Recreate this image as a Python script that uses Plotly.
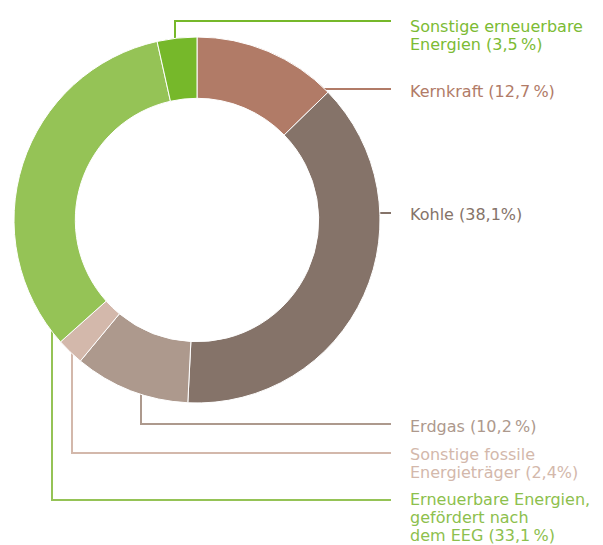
import math
import plotly.graph_objects as go

# ---- data ----
labels = ["Kernkraft", "Kohle", "Erdgas", "Sonstige fossile Energieträger",
          "Erneuerbare Energien, gefördert nach dem EEG", "Sonstige erneuerbare Energien"]
values = [12.7, 38.1, 10.2, 2.4, 33.1, 3.5]
label_lines = [["Kernkraft (12,7\u2009%)"], ["Kohle (38,1%)"], ["Erdgas (10,2\u2009%)"],
               ["Sonstige fossile", "Energieträger (2,4%)"],
               ["Erneuerbare Energien,", "gefördert nach", "dem EEG (33,1\u2009%)"],
               ["Sonstige erneuerbare", "Energien (3,5\u2009%)"]]
colors = ["#b17b67", "#857369", "#ad998d", "#d3b8ab", "#95c356", "#76b82a"]
text_colors = ["#b17b67", "#857369", "#ad998d", "#d3b8ab", "#8dc04d", "#7cbb34"]

# ---- layout constants (pixels) ----
W, H = 603, 545
CX, CY, R = 197, 220, 183
R_MID = 155
LABEL_X = 408
LINE_END_X = 391
LINE_STEP = 18
FONT_SIZE = 16
leaders = [
    ("h", 89, 90),        # Kernkraft: (kind, line y, first text line centre y)
    ("h", 213, 213),      # Kohle
    ("v", 141, 424, 425),  # Erdgas
    ("v", 72, 453, 453),   # Sonstige fossile
    ("v", 52, 500, 498),   # EEG
    ("v", 175, 21, 25),    # Sonstige erneuerbare
]

def px(x):
    return x / W

def py(y):
    return 1 - y / H

fig = go.Figure(go.Pie(
    labels=labels, values=values, sort=False, direction="clockwise", rotation=0,
    hole=0.665, marker=dict(colors=colors, line=dict(color="white", width=1)),
    textinfo="none", hoverinfo="label+percent", showlegend=False,
    domain=dict(x=[px(CX - R), px(CX + R)], y=[py(CY + R), py(CY - R)]),
))

shapes = []
annotations = []
for i, ld in enumerate(leaders):
    c = colors[i]
    if ld[0] == "h":
        y, ty = ld[1], ld[2]
        dy = y - CY
        x0 = CX + math.sqrt(max(R_MID**2 - dy**2, 0))
        shapes.append(dict(type="line", xref="paper", yref="paper", layer="below",
                           x0=px(x0), y0=py(y), x1=px(LINE_END_X), y1=py(y),
                           line=dict(color=c, width=2)))
    else:
        xa, y, ty = ld[1], ld[2], ld[3]
        dx = xa - CX
        dyr = math.sqrt(max(R_MID**2 - dx**2, 0))
        y_start = CY - dyr if y < CY else CY + dyr
        shapes.append(dict(type="path", xref="paper", yref="paper", layer="below",
                           path=f"M {px(xa)},{py(y_start)} L {px(xa)},{py(y)} L {px(LINE_END_X)},{py(y)}",
                           line=dict(color=c, width=2)))
    for k, line in enumerate(label_lines[i]):
        annotations.append(dict(
            x=px(LABEL_X), y=py(ty + k * LINE_STEP + 1), xref="paper", yref="paper",
            xanchor="left", yanchor="middle", align="left", showarrow=False,
            text=line, font=dict(family="DejaVu Sans", size=FONT_SIZE, color=text_colors[i]),
        ))

fig.update_layout(
    width=W, height=H, margin=dict(l=0, r=0, t=0, b=0),
    paper_bgcolor="white", plot_bgcolor="white",
    shapes=shapes, annotations=annotations,
)
fig.write_html("out.html", config={"displayModeBar": False},
               post_script="document.body.style.margin='0';document.body.style.padding='0';")
